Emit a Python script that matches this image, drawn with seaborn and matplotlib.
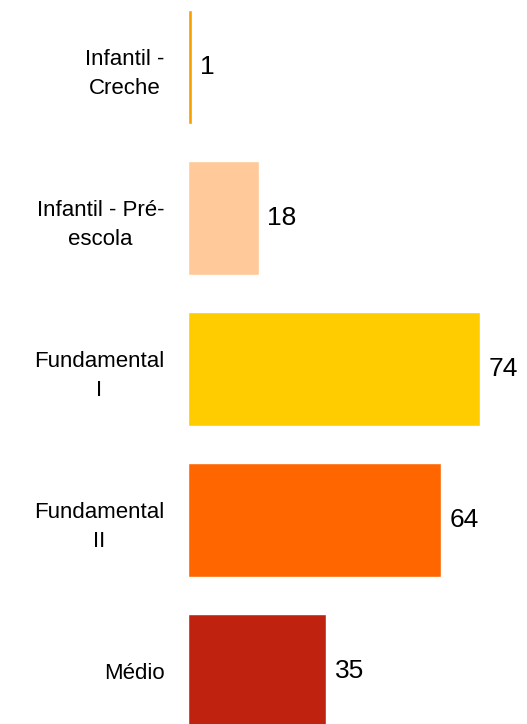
import matplotlib
matplotlib.use("Agg")
import matplotlib.pyplot as plt
import seaborn as sns
import pandas as pd

categories = ["Infantil -\nCreche", "Infantil - Pré-\nescola", "Fundamental\nI", "Fundamental\nII", "Médio"]
values = [1, 18, 74, 64, 35]
colors = ["#F5A000", "#FFC999", "#FFCC00", "#FF6600", "#BF230F"]

sns.set_theme(style="white")
plt.rcParams['font.family'] = ['Liberation Sans', 'DejaVu Sans']

df = pd.DataFrame({"cat": categories, "val": values})

fig = plt.figure(figsize=(5.27, 7.24), dpi=100)
ax = fig.add_axes([188/527, 0, 1 - 188/527, 1])
sns.barplot(data=df, x="val", y="cat", hue="cat", palette=colors, legend=False,
            width=0.755, ax=ax, saturation=1, orient="h")

ax.set_xlim(0, (527 - 188) / 3.95)
ax.set_ylim(4.351, -0.444)
for s in ax.spines.values():
    s.set_visible(False)
ax.set_xticks([])
ax.set_xlabel("")
ax.set_ylabel("")
ax.tick_params(axis="y", length=0, pad=17)
for lab in ax.get_yticklabels():
    lab.set_fontsize(16)
    lab.set_multialignment("center")
    lab.set_linespacing(1.5)
    lab.set_color("black")

for i, v in enumerate(values):
    ax.annotate(str(v), xy=(v, i), xytext=(6, 0), textcoords="offset points",
                va="center", ha="left", fontsize=19, color="black")

fig.savefig("out.png", dpi=100)
